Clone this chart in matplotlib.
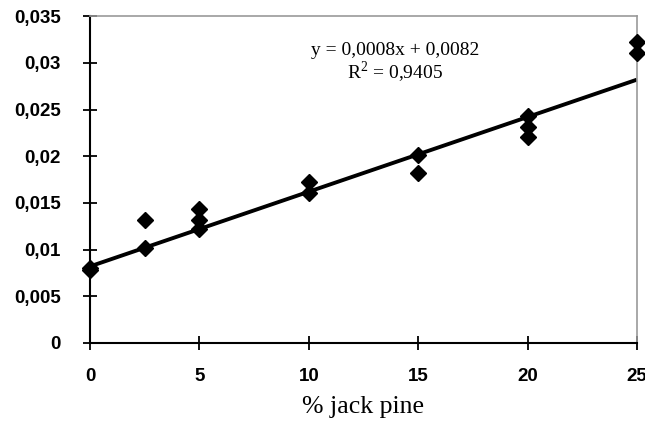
import matplotlib
matplotlib.use("Agg")
import matplotlib.pyplot as plt
import numpy as np

plt.rcParams["mathtext.fontset"] = "custom"
plt.rcParams["mathtext.rm"] = "Liberation Serif"

x_vals = [0, 0, 2.5, 2.5, 5, 5, 5, 10, 10, 15, 15, 20, 20, 20, 25, 25]
y_vals = [0.0078, 0.0080, 0.0132, 0.0102, 0.0143, 0.0132, 0.0122, 0.0172, 0.0161,
          0.0201, 0.0182, 0.0243, 0.0231, 0.0221, 0.0322, 0.0311]
slope = 0.0008
intercept = 0.0082
eq_text = "y = 0,0008x + 0,0082"
r2_text = "R$^{2}$ = 0,9405"
xticks = [0, 5, 10, 15, 20, 25]
yticks = [0, 0.005, 0.01, 0.015, 0.02, 0.025, 0.03, 0.035]
ytick_labels = ["0", "0,005", "0,01", "0,015", "0,02", "0,025", "0,03", "0,035"]

fig = plt.figure(figsize=(6.45, 4.25), dpi=100)
ax = fig.add_axes([0.1395, 0.193, 0.848, 0.769])

fx = np.array([0, 25])
ax.plot(fx, intercept + slope * fx, color="black", lw=2.8, zorder=2, solid_capstyle="butt")
ax.plot(x_vals, y_vals, linestyle="none", marker="D", color="black", ms=8.5, zorder=3, clip_on=False)

ax.set_xlim(0, 25)
ax.set_ylim(0, 0.035)
ax.set_xticks(xticks)
ax.set_xticklabels([str(t) for t in xticks])
ax.set_yticks(yticks)
ax.set_yticklabels(ytick_labels)
for lab in ax.get_xticklabels() + ax.get_yticklabels():
    lab.set_fontfamily("Liberation Sans")
    lab.set_fontweight("bold")
    lab.set_fontsize(13.5)
ax.tick_params(direction="inout", length=10, width=1.3, colors="black")
ax.tick_params(axis="x", pad=13)
ax.tick_params(axis="y", pad=16)
for s in ["left", "bottom"]:
    ax.spines[s].set_color("black")
    ax.spines[s].set_linewidth(1.5)
for s in ["top", "right"]:
    ax.spines[s].set_color("#999999")
    ax.spines[s].set_linewidth(1.2)

ax.set_xlabel("% jack pine", fontfamily="Liberation Serif", fontsize=18.5, labelpad=8)
ax.text(13.94, 0.0313, eq_text, ha="center", va="center", fontfamily="Liberation Serif", fontsize=14)
ax.text(13.94, 0.0290, r2_text, ha="center", va="center", fontfamily="Liberation Serif", fontsize=14)

fig.savefig("out.png", dpi=100)
